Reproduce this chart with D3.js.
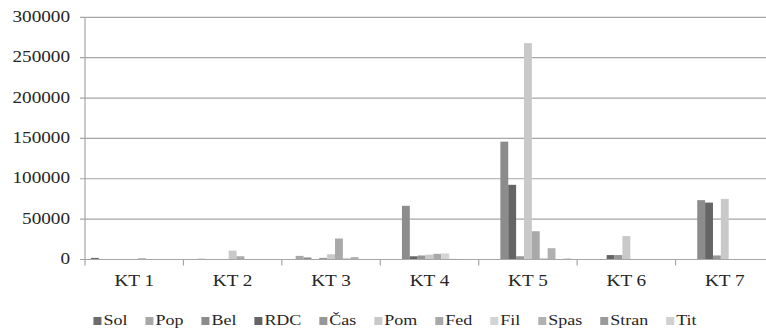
<!DOCTYPE html>
<html>
<head>
<meta charset="utf-8">
<script src="https://cdn.jsdelivr.net/npm/d3@7/dist/d3.min.js"></script>
<style>
  html, body { margin: 0; padding: 0; background: #fff; }
  svg { display: block; }
</style>
</head>
<body>
<svg id="chart" width="766" height="328"></svg>
<script>
// Categories and tick values
const categories = ["KT 1", "KT 2", "KT 3", "KT 4", "KT 5", "KT 6", "KT 7"];
const yTicks = [0, 50000, 100000, 150000, 200000, 250000, 300000];

// Series names and one value per category
const seriesNames = ["Sol", "Pop", "Bel", "RDC", "Čas", "Pom", "Fed", "Fil", "Spas", "Stran", "Tit"];
const Sol   = [2000, 0, 0, 0, 0, 0, 0];
const Pop   = [0, 1000, 4500, 0, 0, 0, 0];
const Bel   = [0, 0, 2500, 66500, 146000, 0, 73500];
const RDC   = [0, 0, 0, 4000, 92500, 5500, 70500];
const Cas   = [0, 0, 2000, 5000, 4000, 5500, 5000];
const Pom   = [0, 11000, 6500, 6000, 268000, 29000, 75000];
const Fed   = [1500, 4000, 26000, 7000, 35000, 0, 0];
const Fil   = [0, 0, 2000, 7500, 2000, 0, 0];
const Spas  = [0, 0, 3000, 800, 14000, 0, 0];
const Stran = [0, 0, 0, 0, 0, 0, 0];
const Tit   = [0, 0, 0, 0, 1500, 0, 0];
const seriesValues = [Sol, Pop, Bel, RDC, Cas, Pom, Fed, Fil, Spas, Stran, Tit];

const colors = ["#6c6c6c", "#a8a8a8", "#8c8c8c", "#656565", "#979797", "#c9c9c9",
                "#a9a9a9", "#d4d4d4", "#b1b1b1", "#9a9a9a", "#d0d0d0"];

const svg = d3.select("#chart");
const plot = { left: 85, right: 774, top: 17.3, bottom: 259.5 };
const SX = 1.2; // horizontal text stretch

const x0 = d3.scaleBand().domain(categories).range([plot.left, plot.right]).padding(0);
const x1 = d3.scaleBand().domain(seriesNames).range([0, x0.bandwidth()])
  .paddingInner(0).paddingOuter(0.75);
const y = d3.scaleLinear().domain([0, 300000]).range([plot.bottom, plot.top]);
const color = d3.scaleOrdinal().domain(seriesNames).range(colors);

function stretchedText(g, x, yPos, str, size, anchor) {
  return g.append("text")
    .attr("transform", `translate(${x},${yPos}) scale(${SX},1)`)
    .attr("text-anchor", anchor || "start")
    .style("font-family", "'Liberation Serif'")
    .style("font-size", size + "px")
    .style("fill", "#262626")
    .text(str);
}

// Horizontal gridlines with left tick stubs
const grid = svg.append("g");
grid.selectAll("line.grid").data(yTicks.filter(d => d > 0)).join("line")
  .attr("class", "grid")
  .attr("x1", plot.left - 5).attr("x2", plot.right)
  .attr("y1", d => y(d)).attr("y2", d => y(d))
  .attr("stroke", "#a6a6a6").attr("stroke-width", 1.2);

// Y tick labels
const yLab = svg.append("g");
yTicks.forEach(t => stretchedText(yLab, 70, y(t) + 4.6, String(t), 16, "end"));

// Bars
const bars = svg.append("g");
categories.forEach((cat, ci) => {
  seriesNames.forEach((name, si) => {
    const v = seriesValues[si][ci];
    if (!v) return;
    bars.append("rect")
      .attr("x", x0(cat) + x1(name))
      .attr("y", y(v))
      .attr("width", x1.bandwidth())
      .attr("height", y(0) - y(v))
      .attr("fill", color(name));
  });
});

// Axes lines
svg.append("line")
  .attr("x1", plot.left).attr("x2", plot.left)
  .attr("y1", plot.top).attr("y2", plot.bottom)
  .attr("stroke", "#a6a6a6").attr("stroke-width", 1.2);
svg.append("line")
  .attr("x1", plot.left - 5).attr("x2", plot.right)
  .attr("y1", plot.bottom).attr("y2", plot.bottom)
  .attr("stroke", "#a6a6a6").attr("stroke-width", 1.2);

// Category tick marks between bands
const catTicks = categories.map(c => x0(c)).concat([plot.right]);
svg.append("g").selectAll("line").data(catTicks).join("line")
  .attr("x1", d => d).attr("x2", d => d)
  .attr("y1", plot.bottom).attr("y2", plot.bottom + 6)
  .attr("stroke", "#a6a6a6").attr("stroke-width", 1.2);

// Category labels
const xLab = svg.append("g");
categories.forEach(c => stretchedText(xLab, x0(c) + x0.bandwidth() / 2, 285.5, c, 16, "middle"));

// Legend
const legend = svg.append("g");
const items = seriesNames.map(name => {
  const g = legend.append("g");
  g.append("rect").attr("x", 0).attr("y", 317).attr("width", 8).attr("height", 8)
    .attr("fill", color(name));
  const t = stretchedText(g, 10, 324.8, name, 15, "start");
  const w = 10 + t.node().getComputedTextLength() * SX;
  return { g, w };
});
const gap = 18;
const total = d3.sum(items, d => d.w) + gap * (items.length - 1);
let lx = 395 - total / 2;
items.forEach(it => {
  it.g.attr("transform", `translate(${lx},0)`);
  lx += it.w + gap;
});
</script>
</body>
</html>
